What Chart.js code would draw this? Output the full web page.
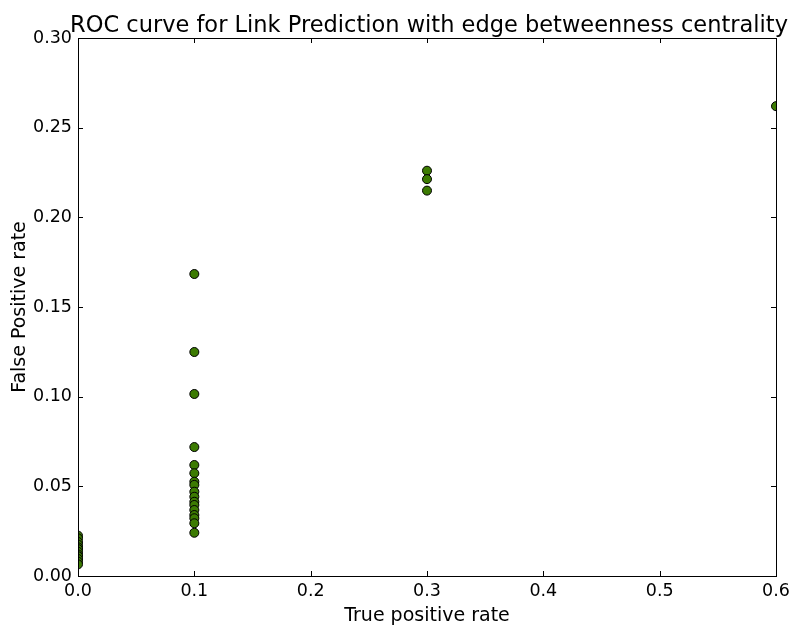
<!DOCTYPE html>
<html>
<head>
<meta charset="utf-8">
<script src="https://cdn.jsdelivr.net/npm/chart.js@4"></script>
<style>
html,body{margin:0;padding:0;background:#fff;}
#wrap{width:796px;height:627px;}
</style>
</head>
<body>
<div id="wrap"><canvas id="c" width="796" height="627"></canvas></div>
<script>
const titleText = "ROC curve for Link Prediction with edge betweenness centrality";
const xLabel = "True positive rate";
const yLabel = "False Positive rate";
const xTicks = [0.0, 0.1, 0.2, 0.3, 0.4, 0.5, 0.6];
const yTicks = [0.00, 0.05, 0.10, 0.15, 0.20, 0.25, 0.30];

const tprGroup0 = 0.0;
const fprGroup0 = [0.0225, 0.021, 0.019, 0.0175, 0.016, 0.015, 0.0135, 0.012, 0.011, 0.0095, 0.008, 0.0065];
const tprGroup1 = 0.1;
const fprGroup1 = [0.1684, 0.1249, 0.1015, 0.0719, 0.0619, 0.0573, 0.0526, 0.0508, 0.047, 0.0442, 0.0414, 0.0396, 0.0368, 0.034, 0.0322, 0.0294, 0.0241];
const tprGroup2 = 0.3;
const fprGroup2 = [0.226, 0.2213, 0.2149];
const tprGroup3 = 0.6;
const fprGroup3 = [0.262];

const points = [];
[[tprGroup0, fprGroup0], [tprGroup1, fprGroup1], [tprGroup2, fprGroup2], [tprGroup3, fprGroup3]]
  .forEach(([x, ys]) => ys.forEach(y => points.push({x: x, y: y})));

const FONT = "'DejaVu Sans', sans-serif";

const framePlugin = {
  id: 'frame',
  afterDatasetsDraw(chart) {
    const {ctx, chartArea: a, scales} = chart;
    ctx.save();
    ctx.strokeStyle = '#000';
    ctx.lineWidth = 1;
    ctx.strokeRect(Math.round(a.left) + 0.5, Math.round(a.top) + 0.5,
      Math.round(a.right) - Math.round(a.left), Math.round(a.bottom) - Math.round(a.top));
    const L = 5;
    ctx.beginPath();
    xTicks.forEach(v => {
      const px = Math.round(scales.x.getPixelForValue(v)) + 0.5;
      ctx.moveTo(px, a.bottom); ctx.lineTo(px, a.bottom - L);
      ctx.moveTo(px, a.top); ctx.lineTo(px, a.top + L);
    });
    yTicks.forEach(v => {
      const py = Math.round(scales.y.getPixelForValue(v)) + 0.5;
      ctx.moveTo(a.left, py); ctx.lineTo(a.left + L, py);
      ctx.moveTo(a.right, py); ctx.lineTo(a.right - L, py);
    });
    ctx.stroke();
    // title
    ctx.fillStyle = '#000';
    ctx.font = "22.5px " + FONT;
    ctx.textAlign = 'center';
    ctx.textBaseline = 'alphabetic';
    ctx.fillText(titleText, (a.left + a.right) / 2 + 2, 31.5);
    ctx.restore();
  }
};

new Chart(document.getElementById('c'), {
  type: 'scatter',
  data: {
    datasets: [{
      data: points,
      backgroundColor: '#3c7b02',
      borderColor: '#000',
      borderWidth: 1,
      pointRadius: 4.5,
      pointHoverRadius: 4.5,
      clip: 0
    }]
  },
  options: {
    responsive: false,
    animation: false,
    events: [],
    layout: {padding: {left: 0, right: 20, top: 38, bottom: 0}},
    plugins: {
      legend: {display: false},
      tooltip: {enabled: false},
      title: {display: false}
    },
    scales: {
      x: {
        type: 'linear',
        min: 0, max: 0.6,
        afterBuildTicks(s) { s.ticks = xTicks.map(v => ({value: v})); },
        afterFit(s) { s.height = 51; },
        grid: {display: false, drawTicks: false},
        border: {display: false},
        ticks: {
          color: '#000', padding: 5,
          font: {family: FONT, size: 17.5},
          maxRotation: 0, autoSkip: false,
          callback: v => Number(v).toFixed(1)
        },
        title: {
          display: true, text: xLabel, color: '#000',
          font: {family: FONT, size: 19},
          padding: {top: 0, bottom: 0}
        }
      },
      y: {
        type: 'linear',
        min: 0, max: 0.3,
        afterBuildTicks(s) { s.ticks = yTicks.map(v => ({value: v})); },
        afterFit(s) { s.width = 78; },
        grid: {display: false, drawTicks: false},
        border: {display: false},
        ticks: {
          color: '#000', padding: 6,
          font: {family: FONT, size: 17.5},
          autoSkip: false,
          callback: v => Number(v).toFixed(2)
        },
        title: {
          display: true, text: yLabel, color: '#000',
          font: {family: FONT, size: 19},
          padding: {top: 8.5, bottom: 0}
        }
      }
    }
  },
  plugins: [framePlugin]
});
</script>
</body>
</html>
